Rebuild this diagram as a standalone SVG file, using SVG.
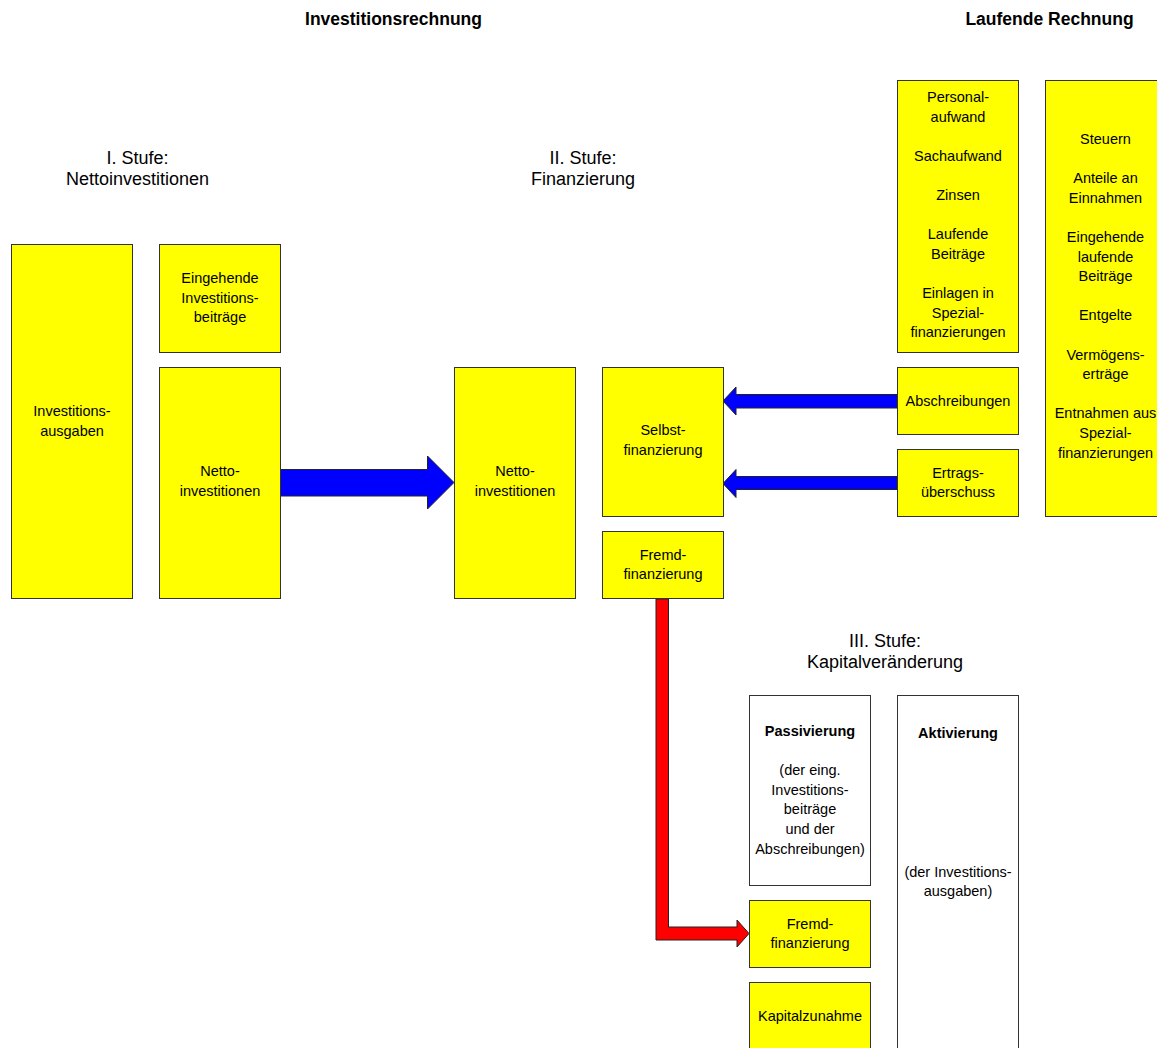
<svg xmlns="http://www.w3.org/2000/svg" width="1157" height="1048" viewBox="0 0 1157 1048">
<style>
text{font-family:"Liberation Sans",Arial,sans-serif;fill:#000;text-anchor:middle}
.t{font-size:17.5px;font-weight:bold}
.s{font-size:18px}
.b{font-size:14.5px}
.bb{font-size:14.5px;font-weight:bold}
.y{fill:#ffff00;stroke:#333;stroke-width:1}
.w{fill:#fff;stroke:#333;stroke-width:1}
.ab{fill:#0000ff;stroke:#222;stroke-width:1}
.ar{fill:#ff0000;stroke:#222;stroke-width:1}
</style>
<rect width="1157" height="1048" fill="#fff"/>
<g id="titles">
<text class="t" x="393.5" y="25">Investitionsrechnung</text>
<text class="t" x="1049.5" y="25">Laufende Rechnung</text>
<text class="s" x="137.5" y="164">I. Stufe:</text>
<text class="s" x="137.5" y="185">Nettoinvestitionen</text>
<text class="s" x="583" y="164">II. Stufe:</text>
<text class="s" x="583" y="185">Finanzierung</text>
<text class="s" x="885" y="647">III. Stufe:</text>
<text class="s" x="885" y="668">Kapitalveränderung</text>
</g>
<g id="connectors">
<polygon class="ab" points="280,469.5 427.5,469.5 427.5,456 454,482.5 427.5,509 427.5,496 280,496"/>
<polygon class="ab" points="897,394.5 736,394.5 736,387 723,401 736,415 736,408 897,408"/>
<polygon class="ab" points="897,476.5 736,476.5 736,469.5 723,483.5 736,497.5 736,489.5 897,489.5"/>
<polygon class="ar" points="656,599 668.5,599 668.5,927 737,927 737,920 749,933.5 737,947 737,940 656,940"/>
</g>
<g id="n-invausgaben">
<rect class="y" x="11.5" y="244.5" width="121" height="354"/>
<text class="b" x="72" y="416">Investitions-</text>
<text class="b" x="72" y="436">ausgaben</text>
</g>
<g id="n-eingehend">
<rect class="y" x="159.5" y="244.5" width="121" height="108"/>
<text class="b" x="220" y="283">Eingehende</text>
<text class="b" x="220" y="302.6">Investitions-</text>
<text class="b" x="220" y="322.2">beiträge</text>
</g>
<g id="n-netto1">
<rect class="y" x="159.5" y="367.5" width="121" height="231"/>
<text class="b" x="220" y="476">Netto-</text>
<text class="b" x="220" y="495.6">investitionen</text>
</g>
<g id="n-netto2">
<rect class="y" x="454.5" y="367.5" width="121" height="231"/>
<text class="b" x="515" y="476">Netto-</text>
<text class="b" x="515" y="495.6">investitionen</text>
</g>
<g id="n-selbst">
<rect class="y" x="602.5" y="367.5" width="121" height="149"/>
<text class="b" x="663" y="435">Selbst-</text>
<text class="b" x="663" y="454.6">finanzierung</text>
</g>
<g id="n-fremd1">
<rect class="y" x="602.5" y="531.5" width="121" height="67"/>
<text class="b" x="663" y="559.5">Fremd-</text>
<text class="b" x="663" y="579.1">finanzierung</text>
</g>
<g id="n-aufwand">
<rect class="y" x="897.5" y="80.5" width="121" height="272"/>
<text class="b" x="958" y="102">Personal-</text>
<text class="b" x="958" y="121.6">aufwand</text>
<text class="b" x="958" y="160.8">Sachaufwand</text>
<text class="b" x="958" y="200">Zinsen</text>
<text class="b" x="958" y="239.2">Laufende</text>
<text class="b" x="958" y="258.8">Beiträge</text>
<text class="b" x="958" y="298">Einlagen in</text>
<text class="b" x="958" y="317.6">Spezial-</text>
<text class="b" x="958" y="337.2">finanzierungen</text>
</g>
<g id="n-ertraege">
<rect class="y" x="1045.5" y="80.5" width="121" height="436"/>
<text class="b" x="1105.5" y="144">Steuern</text>
<text class="b" x="1105.5" y="183.2">Anteile an</text>
<text class="b" x="1105.5" y="202.8">Einnahmen</text>
<text class="b" x="1105.5" y="242">Eingehende</text>
<text class="b" x="1105.5" y="261.6">laufende</text>
<text class="b" x="1105.5" y="281.2">Beiträge</text>
<text class="b" x="1105.5" y="320.4">Entgelte</text>
<text class="b" x="1105.5" y="359.6">Vermögens-</text>
<text class="b" x="1105.5" y="379.2">erträge</text>
<text class="b" x="1105.5" y="418.4">Entnahmen aus</text>
<text class="b" x="1105.5" y="438">Spezial-</text>
<text class="b" x="1105.5" y="457.6">finanzierungen</text>
</g>
<g id="n-abschreibungen">
<rect class="y" x="897.5" y="367.5" width="121" height="67"/>
<text class="b" x="958" y="405.5">Abschreibungen</text>
</g>
<g id="n-ertragsueberschuss">
<rect class="y" x="897.5" y="449.5" width="121" height="67"/>
<text class="b" x="958" y="477.5">Ertrags-</text>
<text class="b" x="958" y="497.1">überschuss</text>
</g>
<g id="n-passivierung">
<rect class="w" x="749.5" y="695.5" width="121" height="190"/>
<text class="bb" x="810" y="736">Passivierung</text>
<text class="b" x="810" y="775.2">(der eing.</text>
<text class="b" x="810" y="794.8">Investitions-</text>
<text class="b" x="810" y="814.4">beiträge</text>
<text class="b" x="810" y="834">und der</text>
<text class="b" x="810" y="853.6">Abschreibungen)</text>
</g>
<g id="n-fremd2">
<rect class="y" x="749.5" y="900.5" width="121" height="67"/>
<text class="b" x="810" y="928.5">Fremd-</text>
<text class="b" x="810" y="948.1">finanzierung</text>
</g>
<g id="n-kapitalzunahme">
<rect class="y" x="749.5" y="982.5" width="121" height="68"/>
<text class="b" x="810" y="1020.5">Kapitalzunahme</text>
</g>
<g id="n-aktivierung">
<rect class="w" x="897.5" y="695.5" width="121" height="360"/>
<text class="bb" x="958" y="738">Aktivierung</text>
<text class="b" x="958" y="876.5">(der Investitions-</text>
<text class="b" x="958" y="896">ausgaben)</text>
</g>
</svg>
